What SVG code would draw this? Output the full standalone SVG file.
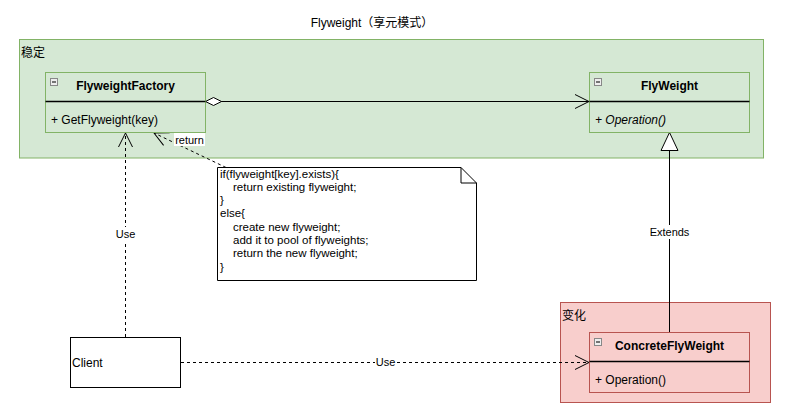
<svg xmlns="http://www.w3.org/2000/svg" width="798" height="419" viewBox="0 0 798 419">
<style>
text{font-family:"Liberation Sans",Arial,"Noto Sans CJK SC",sans-serif;font-size:12px;fill:#000}
.b{font-weight:bold}
.i{font-style:italic}
.n{font-size:11px}
.nt{font-size:11.5px}
.edge{fill:none;stroke:#000;stroke-width:1}
.dash{stroke-dasharray:3 3}
.lbl{fill:#fff;stroke:none}
.icon{fill:#eeeeee;stroke:#888;stroke-width:1}
</style>
<defs>
<marker id="open" viewBox="0 0 16 16" refX="15" refY="8" markerWidth="16" markerHeight="16" markerUnits="userSpaceOnUse" orient="auto">
<path d="M1,1 L15,8 L1,15" fill="none" stroke="#000" stroke-width="1"/>
</marker>
<marker id="diamond" viewBox="0 0 18 10" refX="1" refY="5" markerWidth="18" markerHeight="10" markerUnits="userSpaceOnUse" orient="auto">
<path d="M1,5 L9,1 L17,5 L9,9 Z" fill="#fff" stroke="#000" stroke-width="1"/>
</marker>
<marker id="tri" viewBox="0 0 20 20" refX="19" refY="10" markerWidth="20" markerHeight="20" markerUnits="userSpaceOnUse" orient="auto">
<path d="M1,1.5 L19,10 L1,18.5 Z" fill="#fff" stroke="#000" stroke-width="1"/>
</marker>
</defs>
<rect width="798" height="419" fill="#fff"/>
<text x="372" y="27" text-anchor="middle">Flyweight（享元模式）</text>

<g id="stable">
<rect x="19.5" y="39.5" width="744" height="118.5" fill="#d5e8d4" stroke="#82b366"/>
<text x="21" y="57">稳定</text>
</g>
<g id="change">
<rect x="560.5" y="302.5" width="210" height="100" fill="#f8cecc" stroke="#b85450"/>
<text x="562" y="320">变化</text>
</g>

<g id="connectors">
<line class="edge" x1="205.5" y1="101.5" x2="589" y2="101.5" marker-start="url(#diamond)" marker-end="url(#open)"/>
<line class="edge" x1="669.5" y1="332" x2="669.5" y2="132.5" marker-end="url(#tri)"/>
<rect class="lbl" x="648" y="225" width="43" height="14"/>
<text x="669.5" y="236" text-anchor="middle" class="n">Extends</text>
<line class="edge dash" x1="125.5" y1="337" x2="125.5" y2="133" marker-end="url(#open)"/>
<rect class="lbl" x="115" y="227" width="21" height="14"/>
<text x="125.5" y="238" text-anchor="middle" class="n">Use</text>
<line class="edge dash" x1="181" y1="362.5" x2="589" y2="362.5" marker-end="url(#open)"/>
<rect class="lbl" x="375" y="355" width="21" height="14"/>
<text x="385.5" y="366" text-anchor="middle" class="n">Use</text>
<line class="edge dash" x1="226" y1="167.5" x2="154" y2="133" marker-end="url(#open)"/>
<rect class="lbl" x="174" y="133" width="31" height="13"/>
<text x="189.5" y="144" text-anchor="middle" class="n">return</text>
</g>

<g id="FlyweightFactory">
<rect x="45.5" y="72.5" width="160" height="60" fill="#d5e8d4" stroke="#82b366"/>
<line x1="45.5" y1="101.5" x2="205.5" y2="101.5" stroke="#000" stroke-width="1.5"/>
<rect class="icon" x="50.5" y="78.5" width="7" height="7"/>
<line x1="52" y1="82" x2="56" y2="82" stroke="#222" stroke-width="1.2"/>
<text x="125.5" y="90" text-anchor="middle" class="b">FlyweightFactory</text>
<text x="51" y="124">+ GetFlyweight(key)</text>
</g>

<g id="FlyWeight">
<rect x="589.5" y="72.5" width="160" height="60" fill="#d5e8d4" stroke="#82b366"/>
<line x1="589.5" y1="101.5" x2="749.5" y2="101.5" stroke="#000" stroke-width="1.5"/>
<rect class="icon" x="594.5" y="78.5" width="7" height="7"/>
<line x1="596" y1="82" x2="600" y2="82" stroke="#222" stroke-width="1.2"/>
<text x="669.5" y="90" text-anchor="middle" class="b">FlyWeight</text>
<text x="595" y="124" class="i">+ Operation()</text>
</g>

<g id="ConcreteFlyWeight">
<rect x="589.5" y="332.5" width="160" height="60" fill="#f8cecc" stroke="#b85450"/>
<line x1="589.5" y1="361.5" x2="749.5" y2="361.5" stroke="#000" stroke-width="1.5"/>
<rect class="icon" x="594.5" y="338.5" width="7" height="7"/>
<line x1="596" y1="342" x2="600" y2="342" stroke="#222" stroke-width="1.2"/>
<text x="669.5" y="350" text-anchor="middle" class="b">ConcreteFlyWeight</text>
<text x="595" y="384">+ Operation()</text>
</g>

<g id="Client">
<rect x="70.5" y="337.5" width="110" height="50" fill="#fff" stroke="#000"/>
<text x="72" y="367">Client</text>
</g>

<g id="note">
<path d="M217.5,167.5 H461 L476.5,183 V280.5 H217.5 Z" fill="#fff" stroke="#000"/>
<path d="M461,167.5 V183 H476.5" fill="none" stroke="#000"/>
<text class="nt">
<tspan x="220" y="177.5">if(flyweight[key].exists){</tspan>
<tspan x="233" y="190.8">return existing flyweight;</tspan>
<tspan x="220" y="204.1">}</tspan>
<tspan x="220" y="217.4">else{</tspan>
<tspan x="233" y="230.7">create new flyweight;</tspan>
<tspan x="233" y="244">add it to pool of flyweights;</tspan>
<tspan x="233" y="257.3">return the new flyweight;</tspan>
<tspan x="220" y="270.6">}</tspan>
</text>
</g>
</svg>
